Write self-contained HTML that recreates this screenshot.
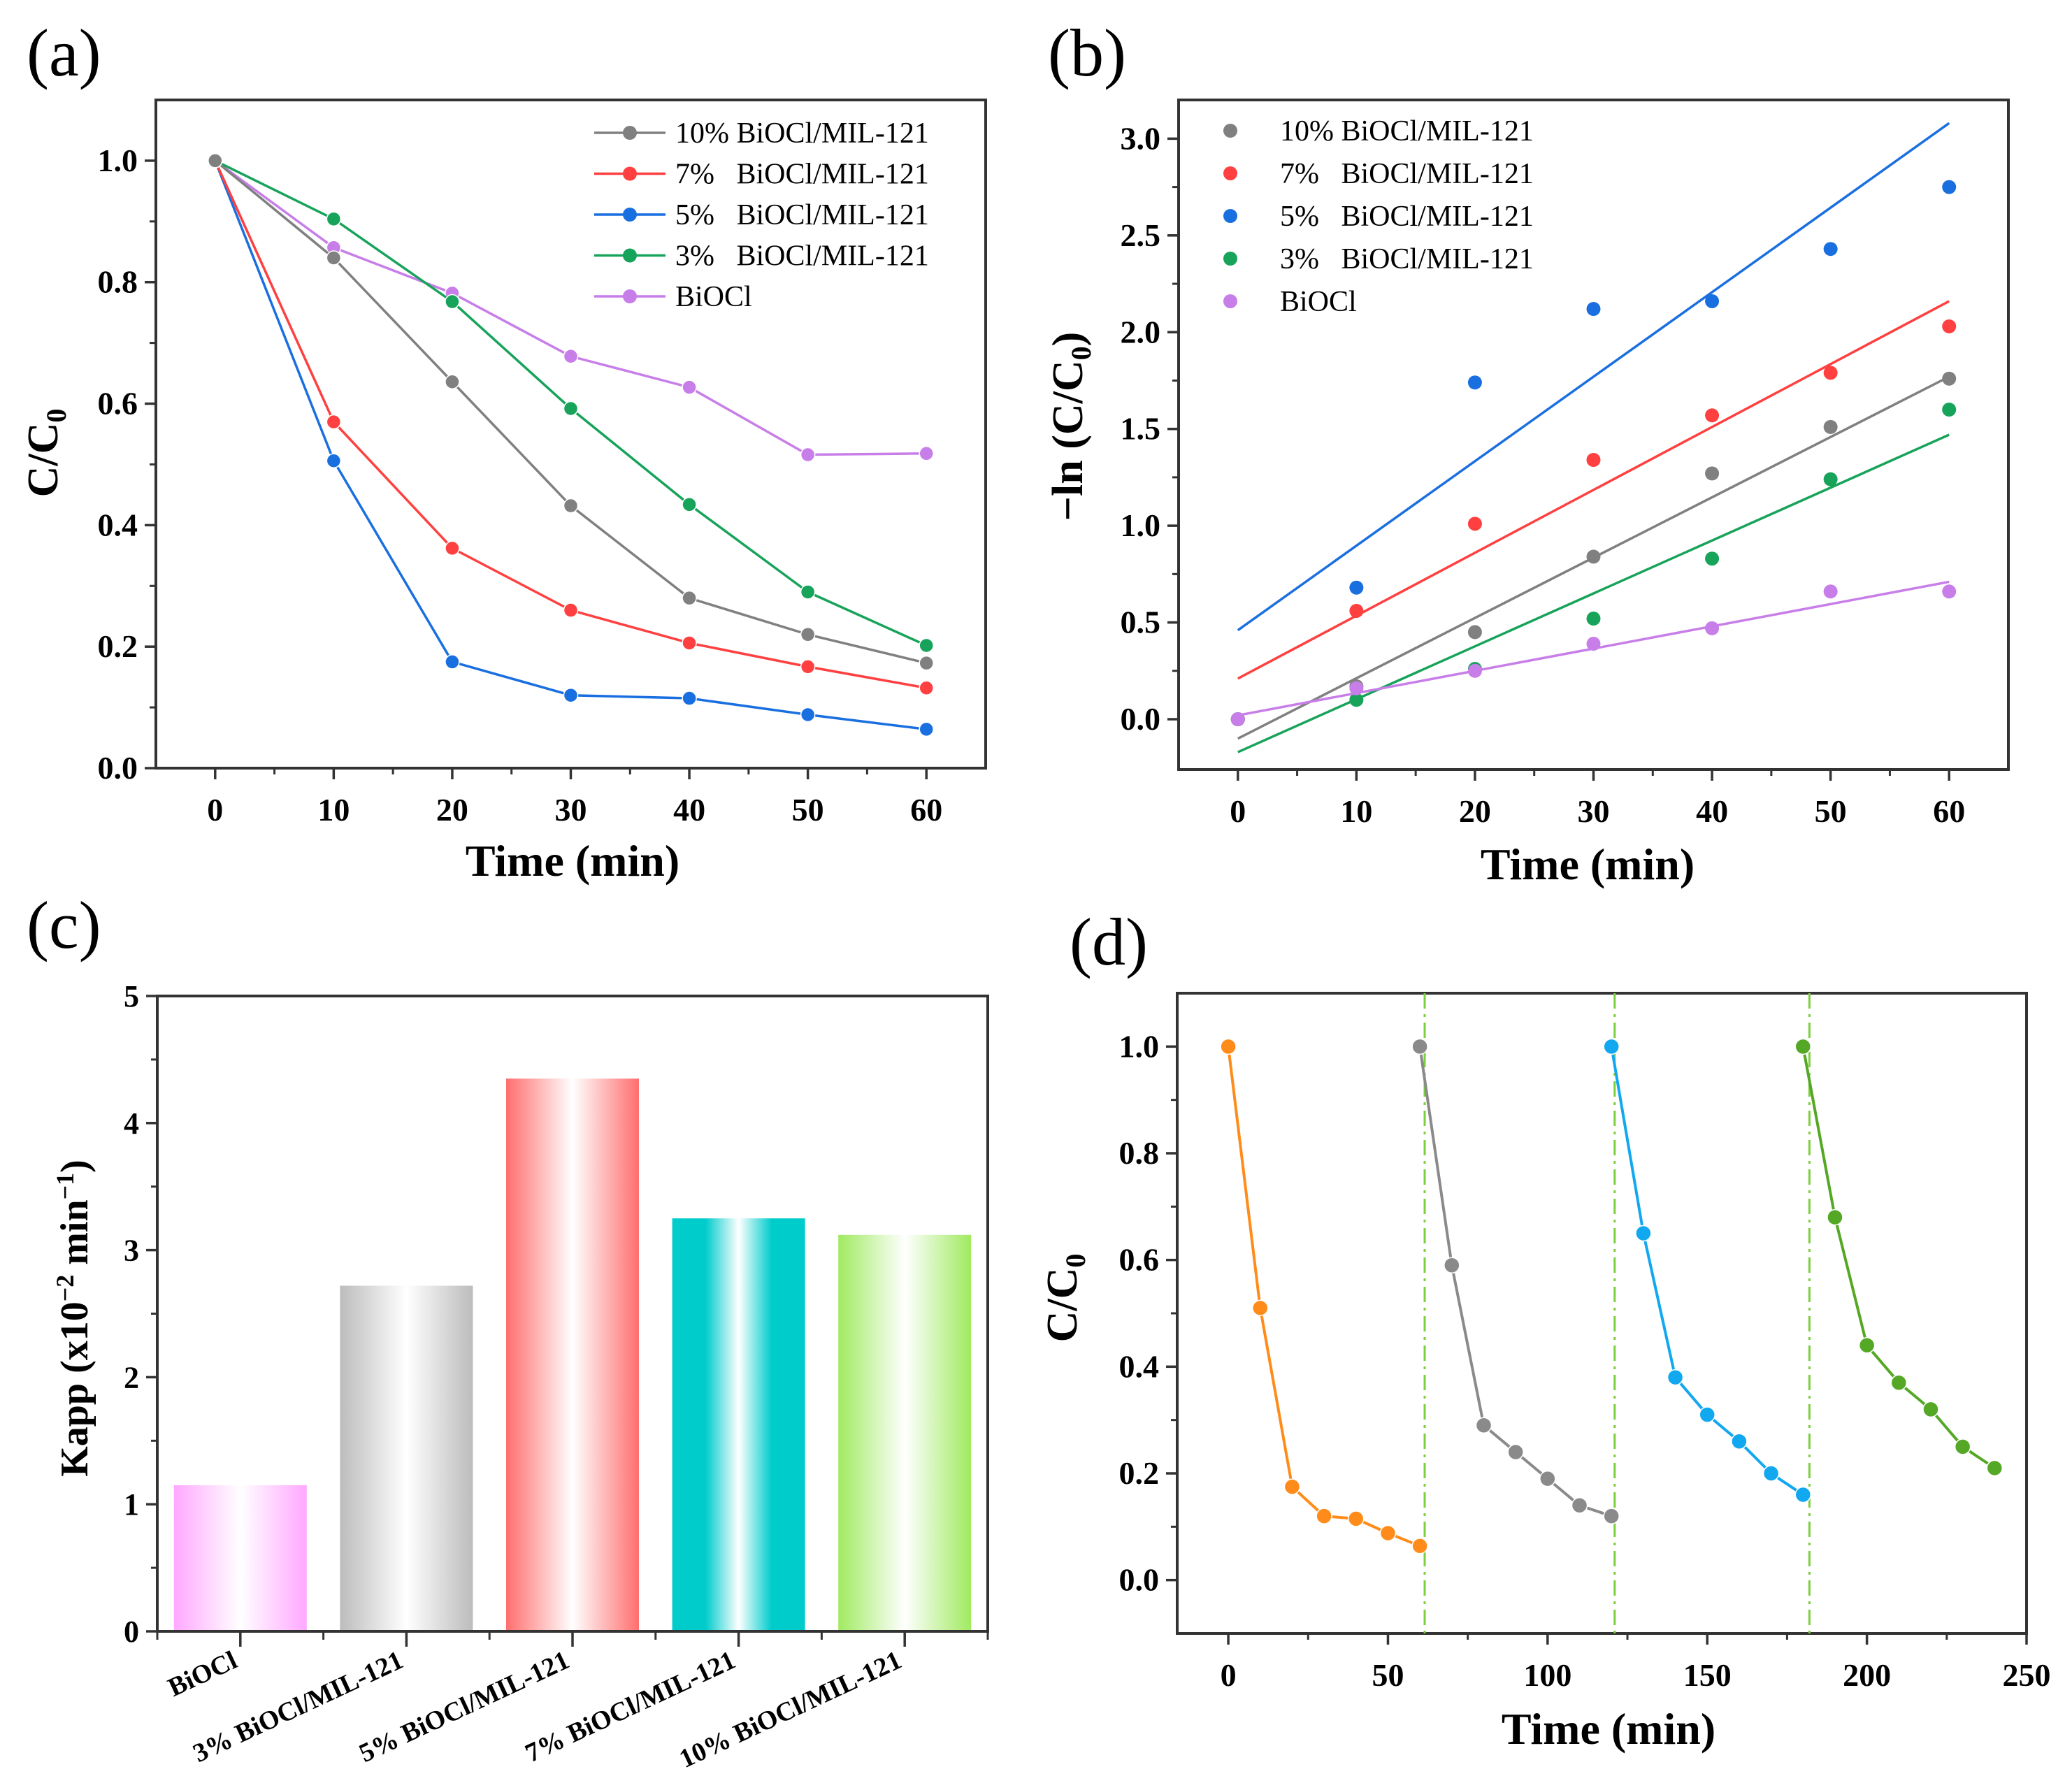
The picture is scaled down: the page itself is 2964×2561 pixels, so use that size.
<!DOCTYPE html>
<html><head><meta charset="utf-8"><style>
html,body{margin:0;padding:0;background:#fff}
svg{display:block}
text{font-family:"Liberation Serif",serif}
</style></head><body>
<svg id="fig" width="2964" height="2561" viewBox="0 0 2964 2561" xmlns="http://www.w3.org/2000/svg">
<defs>
<linearGradient id="g0" x1="0" x2="1"><stop offset="0" stop-color="#ffa8ff"/><stop offset="0.5" stop-color="#fff"/><stop offset="1" stop-color="#ffa8ff"/></linearGradient>
<linearGradient id="g1" x1="0" x2="1"><stop offset="0" stop-color="#bcbcbc"/><stop offset="0.5" stop-color="#fff"/><stop offset="1" stop-color="#bcbcbc"/></linearGradient>
<linearGradient id="g2" x1="0" x2="1"><stop offset="0" stop-color="#ff6e6e"/><stop offset="0.5" stop-color="#fff"/><stop offset="1" stop-color="#ff6e6e"/></linearGradient>
<linearGradient id="g3" x1="0" x2="1"><stop offset="0" stop-color="#00cccc"/><stop offset="0.25" stop-color="#00cccc"/><stop offset="0.5" stop-color="#fff"/><stop offset="0.75" stop-color="#00cccc"/><stop offset="1" stop-color="#00cccc"/></linearGradient>
<linearGradient id="g4" x1="0" x2="1"><stop offset="0" stop-color="#a0ea60"/><stop offset="0.5" stop-color="#fff"/><stop offset="1" stop-color="#a0ea60"/></linearGradient>
</defs>
</svg>
<script>
// ---- panel (a) data ----
const timeA = [0,10,20,30,40,50,60];
const namesA = ["10% BiOCl/MIL-121","7%   BiOCl/MIL-121","5%   BiOCl/MIL-121","3%   BiOCl/MIL-121","BiOCl"];
const s10A = [1,0.84,0.636,0.432,0.28,0.22,0.173];
const s7A = [1,0.57,0.362,0.26,0.206,0.167,0.132];
const s5A = [1,0.506,0.175,0.12,0.115,0.088,0.064];
const s3A = [1,0.904,0.768,0.592,0.434,0.29,0.202];
const sBA = [1,0.857,0.782,0.678,0.627,0.516,0.518];
const yTicksA = ["0.0","0.2","0.4","0.6","0.8","1.0"];
// ---- panel (b) data ----
const s10B = [0,0.17,0.45,0.84,1.27,1.51,1.76];
const s7B = [0,0.56,1.01,1.34,1.57,1.79,2.03];
const s5B = [0,0.68,1.74,2.12,2.16,2.43,2.75];
const s3B = [0,0.10,0.26,0.52,0.83,1.24,1.60];
const sBB = [0,0.16,0.25,0.39,0.47,0.66,0.66];
const fitStart = [-0.10,0.21,0.46,-0.17,0.02];
const fitEnd = [1.77,2.16,3.08,1.47,0.71];
const yTicksB = ["0.0","0.5","1.0","1.5","2.0","2.5","3.0"];
// ---- panel (c) data ----
const catsC = ["BiOCl","3% BiOCl/MIL-121","5% BiOCl/MIL-121","7% BiOCl/MIL-121","10% BiOCl/MIL-121"];
const kapp = [1.15,2.72,4.35,3.25,3.12];
// ---- panel (d) data ----
const run1T = [0,10,20,30,40,50,60], run1 = [1,0.51,0.175,0.12,0.115,0.088,0.064];
const run2T = [60,70,80,90,100,110,120], run2 = [1,0.59,0.29,0.24,0.19,0.14,0.12];
const run3T = [120,130,140,150,160,170,180], run3 = [1,0.65,0.38,0.31,0.26,0.2,0.16];
const run4T = [180,190,200,210,220,230,240], run4 = [1,0.68,0.44,0.37,0.32,0.25,0.21];
const dividers = [61.5,121,182];
const xTicksD = [0,50,100,150,200,250];
const yTicksD = ["0.0","0.2","0.4","0.6","0.8","1.0"];

const svg = document.getElementById('fig');
const NS = "http://www.w3.org/2000/svg";
function mk(tag, attrs, parent){const e=document.createElementNS(NS,tag);for(const k in attrs)e.setAttribute(k,attrs[k]);(parent||svg).appendChild(e);return e;}
function txt(s, attrs, parent){const e=mk('text',attrs,parent);e.textContent=s;return e;}
function scale(d0,d1,r0,r1){return v=>r0+(v-d0)*(r1-r0)/(d1-d0);}

function frame(g, L,R,T,B, xs, ys, xt, xMinor, yt, yMinor, yLab){
  const ax=mk('rect',{x:L,y:T,width:R-L,height:B-T,fill:'none',stroke:'#333','stroke-width':4},g);
  
  
  xt.forEach(v=>{mk('line',{x1:xs(v),x2:xs(v),y1:B,y2:B+16,stroke:'#333','stroke-width':3.5},g);
    const t=txt(String(v),{x:xs(v),y:B+75,'text-anchor':'middle','font-size':46,'font-weight':'bold'},g);
    });
  xMinor.forEach(v=>mk('line',{x1:xs(v),x2:xs(v),y1:B,y2:B+9,stroke:'#333','stroke-width':3},g));
  yt.forEach((v,i)=>{const y=ys(+v);mk('line',{x1:L-16,x2:L,y1:y,y2:y,stroke:'#333','stroke-width':3.5},g);
    const t=txt(yLab?yLab[i]:String(v),{x:L-26,y:y+15,'text-anchor':'end','font-size':46,'font-weight':'bold'},g);
    });
  yMinor.forEach(v=>mk('line',{x1:L-9,x2:L,y1:ys(v),y2:ys(v),stroke:'#333','stroke-width':3},g));
}
function panelLabel(s,x,y){const t=txt(s,{x:x,y:y,'font-size':96},svg);}

const cols=['#808080','#ff4040','#1a6fe0','#17a35a','#c87ee8'];

// ===== Panel A =====
(function(){
  const g=mk('g',{});
  const L=223,R=1410,T=143,B=1099;
  const xs=scale(-5,65,L,R), ys=scale(0,1.1,B,T);
  frame(g,L,R,T,B,xs,ys,timeA,[5,15,25,35,45,55],yTicksA,[0.1,0.3,0.5,0.7,0.9],null);
  const series=[s10A,s7A,s5A,s3A,sBA];
  series.slice().reverse().forEach((s,ri)=>{const i=4-ri;
    const p=mk('polyline',{points:s.map((v,j)=>xs(timeA[j])+','+ys(v)).join(' '),fill:'none',stroke:cols[i],'stroke-width':3.5},g);
    
    s.forEach((v,j)=>{const c=mk('circle',{cx:xs(timeA[j]),cy:ys(v),r:10,fill:cols[i],stroke:'#fff','stroke-width':1.5},g);
      });
  });
  namesA.forEach((n,i)=>{const y=190+i*58.5;
    const lg=mk('g',{},g);
    mk('line',{x1:850,x2:952,y1:y,y2:y,stroke:cols[i],'stroke-width':3.5},lg);
    mk('circle',{cx:901,cy:y,r:10,fill:cols[i]},lg);
    txt(n,{x:966,y:y+14,'font-size':42,style:'white-space:pre'},lg);});
  const yt=txt('C/C',{transform:'translate(82,648) rotate(-90)','text-anchor':'middle','font-size':62,'font-weight':'bold'},g);
  
  const sub=mk('tspan',{'font-size':40,dy:12},yt);sub.textContent='0';
  const xt=txt('Time (min)',{x:819,y:1253,'text-anchor':'middle','font-size':64,'font-weight':'bold'},g);
  
})();
panelLabel('(a)',38,108);

// ===== Panel B =====
(function(){
  const g=mk('g',{});
  const L=1686,R=2873,T=143,B=1101;
  const xs=scale(-5,65,L,R), ys=scale(-0.26,3.2,B,T);
  frame(g,L,R,T,B,xs,ys,timeA,[5,15,25,35,45,55],yTicksB,[0.25,0.75,1.25,1.75,2.25,2.75],null);
  const series=[s10B,s7B,s5B,s3B,sBB];
  series.forEach((s,i)=>{
    const l=mk('line',{x1:xs(0),y1:ys(fitStart[i]),x2:xs(60),y2:ys(fitEnd[i]),stroke:cols[i],'stroke-width':3.5},g);
    
    s.forEach((v,j)=>{const c=mk('circle',{cx:xs(timeA[j]),cy:ys(v),r:10,fill:cols[i]},g);
      });
  });
  namesA.forEach((n,i)=>{const y=187+i*61;
    const lg=mk('g',{},g);
    mk('circle',{cx:1760,cy:y,r:10,fill:cols[i]},lg);
    txt(n,{x:1831,y:y+14,'font-size':42,style:'white-space:pre'},lg);});
  const yt=txt('−ln (C/C',{transform:'translate(1548,610) rotate(-90)','text-anchor':'middle','font-size':62,'font-weight':'bold'},g);
  
  const sub=mk('tspan',{'font-size':40,dy:12},yt);sub.textContent='0';
  const cl=mk('tspan',{'font-size':62,dy:-12},yt);cl.textContent=')';
  const xt=txt('Time (min)',{x:2271,y:1258,'text-anchor':'middle','font-size':64,'font-weight':'bold'},g);
  
})();
panelLabel('(b)',1499,108);

// ===== Panel C =====
(function(){
  const g=mk('g',{});
  const L=225,R=1413,T=1425,B=2334;
  const ys=scale(0,5,B,T);
  const bw=(R-L)/catsC.length;
  kapp.forEach((v,i)=>{const cx=L+bw*(i+0.5);
    const r=mk('rect',{x:cx-95,y:ys(v),width:190,height:B-ys(v),fill:'url(#g'+i+')'},g);
    });
  mk('rect',{x:L,y:T,width:R-L,height:B-T,fill:'none',stroke:'#333','stroke-width':4},g);
  for(let i=0;i<=catsC.length;i++){const x=L+bw*i;mk('line',{x1:x,x2:x,y1:B,y2:B+12,stroke:'#333','stroke-width':3},g);}
  catsC.forEach((c,i)=>{const cx=L+bw*(i+0.5);
    mk('line',{x1:cx,x2:cx,y1:B,y2:B+22,stroke:'#333','stroke-width':3.5},g);
    const t=txt(c,{transform:'translate('+(cx-2)+','+(B+50)+') rotate(-25)','text-anchor':'end','font-size':38,'font-weight':'bold'},g);
    });
  [0,1,2,3,4,5].forEach(v=>{const y=ys(v);mk('line',{x1:L-16,x2:L,y1:y,y2:y,stroke:'#333','stroke-width':3.5},g);
    const t=txt(String(v),{x:L-26,y:y+15,'text-anchor':'end','font-size':44,'font-weight':'bold'},g);
    });
  [0.5,1.5,2.5,3.5,4.5].forEach(v=>mk('line',{x1:L-9,x2:L,y1:ys(v),y2:ys(v),stroke:'#333','stroke-width':3},g));
  const yt=txt('Kapp (x10',{transform:'translate(125,1886) rotate(-90)','text-anchor':'middle','font-size':56,'font-weight':'bold'},g);
  
  let sp=mk('tspan',{'font-size':36,dy:-20},yt);sp.textContent='−2';
  sp=mk('tspan',{'font-size':56,dy:20},yt);sp.textContent=' min';
  sp=mk('tspan',{'font-size':36,dy:-20},yt);sp.textContent='−1';
  sp=mk('tspan',{'font-size':56,dy:20},yt);sp.textContent=')';
})();
panelLabel('(c)',38,1356);

// ===== Panel D =====
(function(){
  const g=mk('g',{});
  const L=1684,R=2899,T=1421,B=2337;
  const xs=scale(-16,250,L,R), ys=scale(-0.1,1.1,B,T);
  frame(g,L,R,T,B,xs,ys,xTicksD,[25,75,125,175,225],yTicksD,[0.1,0.3,0.5,0.7,0.9],null);
  dividers.forEach(d=>{const l=mk('line',{x1:xs(d),x2:xs(d),y1:T,y2:B,stroke:'#7ccf3c','stroke-width':3,'stroke-dasharray':'22 8 4 8'},g);
    });
  const runs=[[run1T,run1,'#ff8c1a'],[run2T,run2,'#8a8a8a'],[run3T,run3,'#12a8f0'],[run4T,run4,'#55a825']];
  runs.forEach((r,i)=>{
    const p=mk('polyline',{points:r[1].map((v,j)=>xs(r[0][j])+','+ys(v)).join(' '),fill:'none',stroke:r[2],'stroke-width':4},g);
    
    r[1].forEach((v,j)=>{const c=mk('circle',{cx:xs(r[0][j]),cy:ys(v),r:11,fill:r[2],stroke:'#fff','stroke-width':1.5},g);
      });
  });
  const yt=txt('C/C',{transform:'translate(1540,1857) rotate(-90)','text-anchor':'middle','font-size':62,'font-weight':'bold'},g);
  
  const sub=mk('tspan',{'font-size':40,dy:12},yt);sub.textContent='0';
  const xt=txt('Time (min)',{x:2301,y:2495,'text-anchor':'middle','font-size':64,'font-weight':'bold'},g);
  
})();
panelLabel('(d)',1530,1380);
</script>
</body></html>
